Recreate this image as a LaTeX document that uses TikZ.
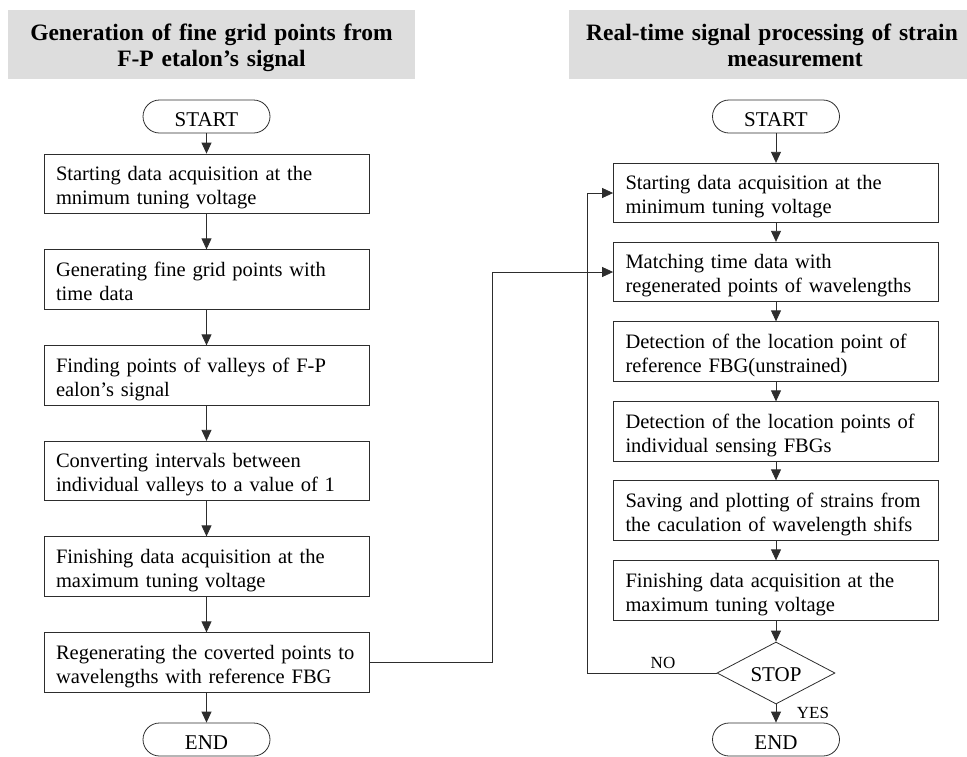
\documentclass[tikz,border=0pt]{standalone}
\usepackage{fontspec}
\setmainfont{Liberation Serif}
\usetikzlibrary{arrows.meta,shapes.geometric}
\definecolor{titlegray}{RGB}{221,221,221}
\definecolor{linegray}{RGB}{45,45,45}
\newcommand{\twolines}[2]{\rule{0pt}{22pt}\mbox{#1}\\\mbox{#2}\rule[-4pt]{0pt}{4pt}}
\newcommand{\titlelines}[2]{\rule{0pt}{24pt}\mbox{#1}\\\mbox{#2}\rule[-5.6pt]{0pt}{5.6pt}}
\begin{document}
\begin{tikzpicture}[x=1pt,y=-1pt,
  stepbox/.style={draw=linegray, line width=0.8pt, rectangle, minimum width=325pt, minimum height=59.5pt, text width=301pt, inner xsep=12pt, inner ysep=0pt, align=left, font=\fontsize{20.5}{24}\selectfont},
  term/.style={draw=linegray, line width=0.8pt, rounded corners=16.5pt, minimum width=127pt, minimum height=33pt, inner sep=0pt, text height=19pt, text depth=0pt, font=\fontsize{21}{24}\selectfont},
  titlebox/.style={fill=titlegray, minimum width=407pt, minimum height=69pt, text width=400pt, align=center, inner sep=0pt, font=\bfseries\fontsize{23.5}{26}\selectfont},
  decision/.style={draw=linegray, line width=0.8pt, diamond, aspect=1.9, minimum width=118pt, minimum height=62pt, inner sep=0pt, text height=17.5pt, text depth=0pt, font=\fontsize{21}{24}\selectfont},
  arr/.style={-{Triangle[length=11pt,width=10pt]}, line width=0.8pt, draw=linegray},
  lbl/.style={font=\fontsize{17}{19}\selectfont, inner sep=0pt}]
\useasboundingbox (0,0) rectangle (967,756);

% titles
\node[titlebox] (t1) at (211.5,44.5) {\titlelines{Generation of fine grid points from}{F-P etalon’s signal}};
\node[titlebox] (t2) at (772,44.5) {\titlelines{Real-time signal processing of strain}{\hspace*{46pt}measurement}};

% left column
\node[term] (ls) at (206.5,116.5) {START};
\node[stepbox] (l1) at (206.5,183.75) {\twolines{Starting data acquisition at the}{mnimum tuning voltage}};
\node[stepbox] (l2) at (206.5,279.5) {\twolines{Generating fine grid points with}{time data}};
\node[stepbox] (l3) at (206.5,375.5) {\twolines{Finding points of valleys of F-P}{ealon’s signal}};
\node[stepbox] (l4) at (206.5,471) {\twolines{Converting intervals between}{individual valleys to a value of 1}};
\node[stepbox] (l5) at (206.5,566.5) {\twolines{Finishing data acquisition at the}{maximum tuning voltage}};
\node[stepbox] (l6) at (206.5,662.5) {\twolines{Regenerating the coverted points to}{wavelengths with reference FBG}};
\node[term] (le) at (206.5,739.5) {END};

% right column
\node[term] (rs) at (776,116.5) {START};
\node[stepbox] (r1) at (776,193) {\twolines{Starting data acquisition at the}{minimum tuning voltage}};
\node[stepbox] (r2) at (776,272) {\twolines{Matching time data with}{regenerated points of wavelengths}};
\node[stepbox] (r3) at (776,351.5) {\twolines{Detection of the location point of}{reference FBG(unstrained)}};
\node[stepbox] (r4) at (776,431.5) {\twolines{Detection of the location points of}{individual sensing FBGs}};
\node[stepbox] (r5) at (776,510.5) {\twolines{Saving and plotting of strains from}{the caculation of wavelength shifs}};
\node[stepbox] (r6) at (776,590.5) {\twolines{Finishing data acquisition at the}{maximum tuning voltage}};
\node[decision] (stop) at (776,673) {STOP};
\node[term] (re) at (776,739.5) {END};

\node[lbl] (no) at (663,662.5) {NO};
\node[lbl] (yes) at (813,712.5) {YES};

% left connectors
\draw[arr] (ls) -- (l1);
\draw[arr] (l1) -- (l2);
\draw[arr] (l2) -- (l3);
\draw[arr] (l3) -- (l4);
\draw[arr] (l4) -- (l5);
\draw[arr] (l5) -- (l6);
\draw[arr] (l6) -- (le);

% right connectors
\draw[arr] (rs) -- (r1);
\draw[arr] (r1) -- (r2);
\draw[arr] (r2) -- (r3);
\draw[arr] (r3) -- (r4);
\draw[arr] (r4) -- (r5);
\draw[arr] (r5) -- (r6);
\draw[arr] (r6) -- (stop);
\draw[arr] (stop) -- (re);

% loop and feeder
\coordinate (loopx) at (587,0);
\coordinate (feedx) at (492,0);
\draw[arr] (stop.west) -- (stop.west -| loopx) -- (loopx |- r1.west) -- (r1.west);
\draw[arr] (l6.east) -- (l6.east -| feedx) -- (feedx |- r2.west) -- (r2.west);
\end{tikzpicture}
\end{document}
